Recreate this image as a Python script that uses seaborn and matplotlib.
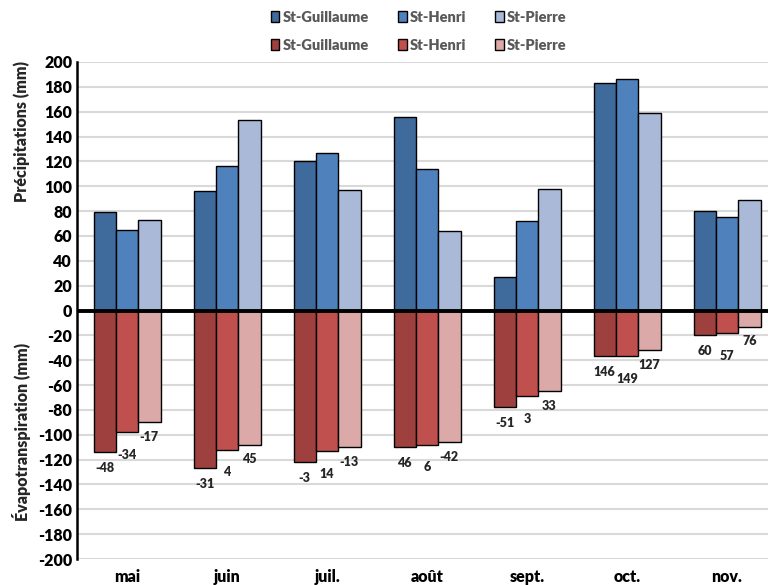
import pandas as pd
import matplotlib
matplotlib.use("Agg")
import matplotlib.pyplot as plt
import seaborn as sns

# Data
months = ["mai", "juin", "juil.", "août", "sept.", "oct.", "nov."]
stations = ["St-Guillaume", "St-Henri", "St-Pierre"]

precip_guillaume = [79, 96, 120, 156, 27, 183, 80]
precip_henri = [65, 116, 127, 114, 72, 186, 75]
precip_pierre = [73, 153, 97, 64, 98, 159, 89]

evap_guillaume = [114, 127, 122, 110, 78, 37, 20]
evap_henri = [98, 112, 113, 108, 69, 37, 18]
evap_pierre = [90, 108, 110, 106, 65, 32, 13]

# balance labels printed under the red bars
bilan_guillaume = [-48, -31, -3, 46, -51, 146, 60]
bilan_henri = [-34, 4, 14, 6, 3, 149, 57]
bilan_pierre = [-17, 45, -13, -42, 33, 127, 76]

blues = ["#3F6A9C", "#4F81BD", "#AAB9D7"]
reds = ["#9E413E", "#C0504D", "#DAA9A8"]

# Long tables for seaborn
precip = pd.DataFrame({
    "mois": months * 3,
    "station": [s for s in stations for _ in months],
    "valeur": precip_guillaume + precip_henri + precip_pierre,
})
evap = pd.DataFrame({
    "mois": months * 3,
    "station": [s for s in stations for _ in months],
    "valeur": [-v for v in evap_guillaume + evap_henri + evap_pierre],
})
bilans = [bilan_guillaume, bilan_henri, bilan_pierre]

sns.set_style("white")
plt.rcParams["font.family"] = ["Lato", "DejaVu Sans"]
plt.rcParams["font.weight"] = "heavy"

fig = plt.figure(figsize=(7.68, 5.85), dpi=100)
ax = fig.add_axes([77 / 768, 1 - 559 / 585, 1 - 77 / 768, (559 - 62) / 585])

# ---------------- bars ----------------
sns.barplot(data=precip, x="mois", y="valeur", hue="station", hue_order=stations,
            palette=blues, saturation=1, width=0.67, edgecolor="black", linewidth=1,
            errorbar=None, legend=False, ax=ax, zorder=3)
sns.barplot(data=evap, x="mois", y="valeur", hue="station", hue_order=stations,
            palette=reds, saturation=1, width=0.67, edgecolor="black", linewidth=1,
            errorbar=None, legend=False, ax=ax, zorder=3)

# balance labels under each red bar
offsets = [7, 12, 6]
for i, cont in enumerate(ax.containers[3:6]):
    for bar, txt in zip(cont.patches, bilans[i]):
        x = bar.get_x() + bar.get_width() / 2
        y = min(bar.get_y(), bar.get_y() + bar.get_height())
        ax.annotate(str(txt), (x, y), xytext=(0, -offsets[i]), textcoords="offset points",
                    ha="center", va="top", fontsize=9, fontweight="heavy", color="#262626")

# ---------------- axes styling ----------------
ax.set_ylim(-200, 200)
ax.set_xlim(-0.5, 6.41)
ax.set_yticks(range(-200, 201, 20))
ax.set_yticklabels([str(v) for v in range(-200, 201, 20)])
ax.yaxis.grid(True, color="#D9D9D9", linewidth=1.5, zorder=0)
ax.set_axisbelow(True)
ax.axhline(0, color="black", linewidth=2.8, zorder=4)
ax.set_xlabel("")
ax.set_ylabel("")
ax.tick_params(axis="both", labelsize=11.5, length=0, colors="black")
ax.tick_params(axis="x", pad=7)
for lab in ax.get_xticklabels() + ax.get_yticklabels():
    lab.set_fontweight("heavy")
for side in ["top", "right", "bottom"]:
    ax.spines[side].set_visible(False)
ax.spines["left"].set_color("black")
ax.spines["left"].set_linewidth(1.8)

fig.text(22 / 768, 1 - 132 / 585, "Précipitations (mm)", rotation=90, ha="center",
         va="center", fontsize=11.5, fontweight="heavy")
fig.text(22 / 768, 1 - 432 / 585, "Évapotranspiration (mm)", rotation=90, ha="center",
         va="center", fontsize=11.5, fontweight="heavy")

# ---------------- legends (two rows) ----------------
leg_kw = dict(ncol=3, frameon=False, handlelength=0.6, handleheight=0.8,
              handletextpad=0.2, columnspacing=2.0, loc="center",
              prop={"weight": "heavy", "size": 10.5}, labelcolor="#595959")
fig.legend(handles=ax.containers[0:3], labels=stations,
           bbox_to_anchor=(0.545, 1 - 17 / 585), **leg_kw)
fig.legend(handles=ax.containers[3:6], labels=stations,
           bbox_to_anchor=(0.545, 1 - 45 / 585), **leg_kw)

fig.savefig("out.png", dpi=100)
